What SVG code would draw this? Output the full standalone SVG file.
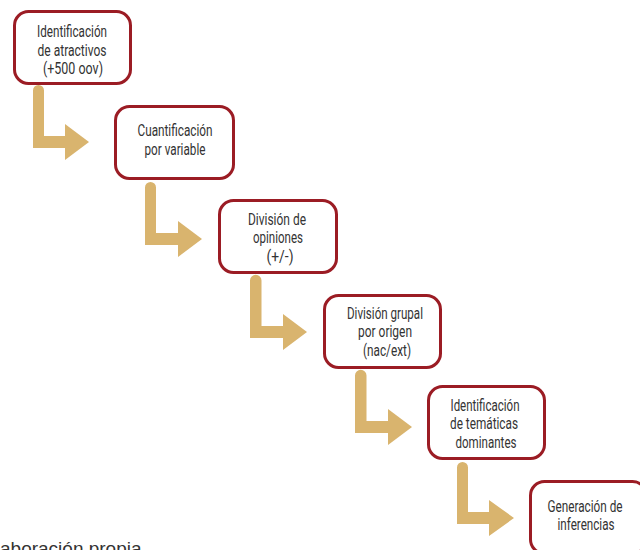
<svg xmlns="http://www.w3.org/2000/svg" width="640" height="550" viewBox="0 0 640 550">
<style>
.box{fill:#fff;stroke:#9b1c24;stroke-width:3}
.arr{fill:#d9b46e}
.t{font-family:Roboto,"Liberation Sans",sans-serif;font-size:16.5px;fill:#333;text-anchor:middle}
.foot{font-family:"Liberation Sans",Arial,sans-serif;font-size:19px;fill:#333}
</style>
<rect width="640" height="550" fill="#fff"/>
<g id="connectors">
<path class="arr" d="M33,148 V90.5 A5.5,5.5 0 0 1 44,90.5 V136 H65 V124 L89,142 L65,160 V148 Z"/>
<path class="arr" d="M145,245 V187.5 A5.5,5.5 0 0 1 156,187.5 V233 H178 V221 L202,239 L178,257 V245 Z"/>
<path class="arr" d="M250,338 V280.5 A5.5,5.5 0 0 1 261.5,280.5 V326 H283 V314 L307,332 L283,350 V338 Z"/>
<path class="arr" d="M355,433 V375.5 A5.5,5.5 0 0 1 366.5,375.5 V421 H388 V409 L412,427 L388,445 V433 Z"/>
<path class="arr" d="M457,524 V467.5 A5.5,5.5 0 0 1 468,467.5 V512 H489 V500 L514,518 L489,536 V524 Z"/>
</g>
<g id="n1">
<rect class="box" x="14.5" y="11.5" width="116" height="72" rx="14"/>
<text class="t" x="72" y="37" textLength="70" lengthAdjust="spacingAndGlyphs">Identificación</text>
<text class="t" x="72" y="55.5" textLength="69" lengthAdjust="spacingAndGlyphs">de atractivos</text>
<text class="t" x="73" y="73.5" textLength="60" lengthAdjust="spacingAndGlyphs">(+500 oov)</text>
</g>
<g id="n2">
<rect class="box" x="115.5" y="106.5" width="118" height="72" rx="14"/>
<text class="t" x="175" y="136" textLength="75" lengthAdjust="spacingAndGlyphs">Cuantificación</text>
<text class="t" x="175" y="155" textLength="61" lengthAdjust="spacingAndGlyphs">por variable</text>
</g>
<g id="n3">
<rect class="box" x="219.5" y="200.5" width="117" height="72" rx="14"/>
<text class="t" x="277" y="225" textLength="58" lengthAdjust="spacingAndGlyphs">División de</text>
<text class="t" x="278" y="243" textLength="50" lengthAdjust="spacingAndGlyphs">opiniones</text>
<text class="t" x="280" y="262" textLength="27" lengthAdjust="spacingAndGlyphs">(+/-)</text>
</g>
<g id="n4">
<rect class="box" x="324.5" y="295.5" width="116" height="72" rx="14"/>
<text class="t" x="385" y="319" textLength="76" lengthAdjust="spacingAndGlyphs">División grupal</text>
<text class="t" x="385" y="337" textLength="54" lengthAdjust="spacingAndGlyphs">por origen</text>
<text class="t" x="387" y="356" textLength="48" lengthAdjust="spacingAndGlyphs">(nac/ext)</text>
</g>
<g id="n5">
<rect class="box" x="428.5" y="386.5" width="116" height="72" rx="14"/>
<text class="t" x="485" y="411" textLength="69" lengthAdjust="spacingAndGlyphs">Identificación</text>
<text class="t" x="484" y="429" textLength="68" lengthAdjust="spacingAndGlyphs">de temáticas</text>
<text class="t" x="486" y="448" textLength="61" lengthAdjust="spacingAndGlyphs">dominantes</text>
</g>
<g id="n6">
<rect class="box" x="530.5" y="481.5" width="116" height="72" rx="14"/>
<text class="t" x="585" y="512" textLength="75" lengthAdjust="spacingAndGlyphs">Generación de</text>
<text class="t" x="586" y="530" textLength="57" lengthAdjust="spacingAndGlyphs">inferencias</text>
</g>
<text class="foot" x="0" y="555">aboración propia</text>
</svg>
